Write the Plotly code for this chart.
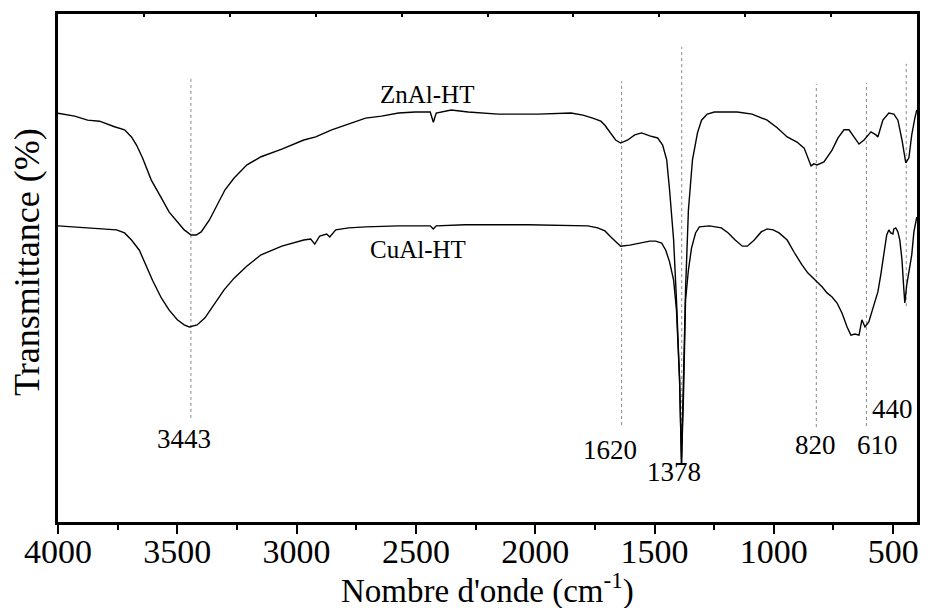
import plotly.graph_objects as go

# ---------------- data ----------------
zn_wn = [4000, 3930, 3876, 3826, 3763, 3721, 3692, 3671, 3646, 3609, 3567, 3534, 3500, 3471,
         3442, 3421, 3400, 3366, 3333, 3300, 3262, 3208, 3149, 3062, 2970, 2920, 2853, 2769,
         2711, 2644, 2573, 2503, 2440, 2427, 2415, 2352, 2281, 2155, 1988, 1850, 1800, 1759,
         1725, 1708, 1683, 1663, 1642, 1612, 1583, 1554, 1520, 1487, 1466, 1449, 1437, 1420,
         1408, 1395, 1387, 1378, 1370, 1358, 1341, 1320, 1303, 1279, 1249, 1153, 1091, 1028,
         986, 944, 903, 873, 852, 844, 832, 819, 790, 756, 731, 706, 685, 664, 643, 622, 593,
         572, 564, 543, 518, 497, 480, 463, 447, 434, 422, 409, 401]
zn_T = [80.45, 79.9, 79.1, 78.9, 77.8, 77.2, 75.8, 74.2, 71.7, 67.3, 63.8, 61.0, 59.1, 57.5,
        56.5, 56.5, 57.1, 59.4, 62.4, 65.4, 67.7, 70.3, 71.9, 73.4, 75.2, 75.8, 77.2, 78.5,
        79.5, 79.9, 80.5, 80.7, 80.7, 78.7, 80.5, 81.1, 80.7, 80.3, 80.3, 80.5, 80.1, 79.5,
        78.9, 78.1, 76.6, 75.2, 74.6, 75.2, 76.2, 76.6, 76.0, 75.6, 74.2, 71.3, 65.4, 55.5,
        43.7, 28.0, 11.6, 28.0, 45.7, 61.4, 71.3, 76.6, 79.1, 80.3, 80.7, 80.7, 80.3, 79.1,
        77.6, 75.8, 74.8, 73.6, 71.3, 70.1, 70.5, 70.3, 70.9, 73.2, 75.6, 77.2, 77.2, 75.8,
        74.4, 75.2, 76.8, 76.2, 75.8, 79.1, 80.5, 80.3, 79.1, 75.2, 70.7, 71.7, 76.2, 79.5, 81.1]

cu_wn = [4000, 3876, 3755, 3721, 3692, 3659, 3638, 3604, 3567, 3534, 3500, 3471, 3450, 3417,
         3384, 3346, 3304, 3262, 3208, 3149, 3062, 2970, 2941, 2924, 2903, 2874, 2861, 2836,
         2782, 2711, 2573, 2440, 2427, 2415, 2294, 2031, 1780, 1738, 1708, 1683, 1658, 1642,
         1604, 1554, 1520, 1495, 1470, 1453, 1437, 1420, 1408, 1395, 1387, 1378, 1370, 1358,
         1345, 1328, 1312, 1270, 1220, 1191, 1162, 1132, 1111, 1082, 1053, 1028, 1003, 978,
         944, 915, 882, 857, 827, 798, 777, 756, 735, 714, 693, 677, 660, 643, 631, 618, 602,
         581, 564, 552, 539, 527, 518, 510, 501, 497, 489, 480, 472, 463, 455, 451, 443, 434,
         422, 413, 401]
cu_T = [58.3, 57.9, 57.5, 56.9, 55.5, 53.5, 51.2, 47.6, 44.1, 41.7, 39.8, 38.8, 38.4, 38.8,
        40.2, 42.7, 45.7, 48.0, 50.4, 52.6, 54.3, 55.5, 55.7, 54.7, 56.3, 56.7, 56.1, 57.5,
        57.9, 58.1, 58.3, 58.3, 57.7, 58.3, 58.5, 58.5, 58.3, 57.9, 57.3, 56.1, 54.9, 54.3,
        54.5, 54.9, 55.3, 55.3, 54.9, 53.5, 51.2, 47.6, 41.7, 28.0, 11.6, 26.0, 43.7, 49.6,
        53.9, 56.9, 58.1, 58.3, 57.9, 56.9, 55.5, 54.3, 54.3, 55.5, 57.1, 57.7, 57.5, 56.9,
        55.5, 53.1, 50.6, 49.0, 47.6, 46.3, 45.1, 44.3, 43.1, 41.1, 38.4, 36.8, 37.0, 36.8,
        39.8, 38.4, 39.4, 42.7, 45.3, 48.6, 52.6, 56.5, 57.5, 56.9, 56.7, 57.7, 57.9, 57.1,
        55.5, 51.6, 45.7, 43.1, 46.7, 49.2, 52.6, 57.1, 60.0]

# marker lines for the assigned bands
peak_labels = ["3443", "1620", "1378", "820", "610", "440"]
peak_line_wn = [3443, 1638, 1386, 822, 612, 445]
peak_line_top = [87.6, 86.8, 93.5, 86.2, 86.4, 90.2]
peak_line_bottom = [20.5, 19.1, 11.6, 18.7, 18.9, 42.5]
peak_label_wn = [3471, 1688, 1420, 827, 564, 502]
peak_label_T = [16.3, 14.2, 9.8, 15.2, 15.2, 22.2]

series_names = ["ZnAl-HT", "CuAl-HT"]
series_label_wn = [2452, 2490]
series_label_T = [84.1, 53.6]

x_ticks = [4000, 3500, 3000, 2500, 2000, 1500, 1000, 500]

SERIF = "Liberation Serif, Times New Roman, serif"

fig = go.Figure()

# dotted band markers
lx, ly = [], []
for w, t, b in zip(peak_line_wn, peak_line_top, peak_line_bottom):
    lx += [w, w, None]
    ly += [b, t, None]
fig.add_trace(go.Scatter(x=lx, y=ly, mode="lines",
                         line=dict(color="#8a8a8a", width=1, dash="dot"),
                         hoverinfo="skip", showlegend=False))

fig.add_trace(go.Scatter(x=zn_wn, y=zn_T, mode="lines", name=series_names[0],
                         line=dict(color="black", width=1.4), showlegend=False))
fig.add_trace(go.Scatter(x=cu_wn, y=cu_T, mode="lines", name=series_names[1],
                         line=dict(color="black", width=1.4), showlegend=False))

# dummy trace for the top (mirror) axis ticks
fig.add_trace(go.Scatter(x=[0, 10], y=[None, None], xaxis="x2", mode="lines",
                         showlegend=False, hoverinfo="skip"))

annotations = []
for txt, w, t in zip(peak_labels, peak_label_wn, peak_label_T):
    annotations.append(dict(x=w, y=t, xref="x", yref="y", text=txt, showarrow=False,
                            font=dict(family=SERIF, size=27, color="black"),
                            xanchor="center", yanchor="middle"))
for txt, w, t in zip(series_names, series_label_wn, series_label_T):
    annotations.append(dict(x=w, y=t, xref="x", yref="y", text=txt, showarrow=False,
                            font=dict(family=SERIF, size=25, color="black"),
                            xanchor="center", yanchor="middle"))
annotations.append(dict(x=-0.036, y=0.512, xref="paper", yref="paper",
                        text="Transmittance (%)", textangle=-90, showarrow=False,
                        font=dict(family=SERIF, size=36, color="black"),
                        xanchor="center", yanchor="middle"))
annotations.append(dict(x=0.5, y=-0.177, xref="paper", yref="paper",
                        text="Nombre d'onde (cm<sup>-1</sup>)", showarrow=False,
                        font=dict(family=SERIF, size=33, color="black"),
                        xanchor="center", yanchor="bottom"))

fig.update_layout(
    width=928, height=608,
    margin=dict(l=58, r=8, t=14, b=86),
    paper_bgcolor="white", plot_bgcolor="white",
    showlegend=False,
    annotations=annotations,
    xaxis=dict(range=[4000, 400], tickvals=x_ticks, ticks="outside", ticklen=9, tickwidth=2,
               tickcolor="black", showline=True, linewidth=2.5, linecolor="black",
               mirror=True, showgrid=False, zeroline=False, ticklabelstandoff=-12,
               tickfont=dict(family=SERIF, size=34, color="black"),
               minor=dict(dtick=250, ticks="outside", ticklen=5, tickwidth=2,
                          tickcolor="black", showgrid=False)),
    xaxis2=dict(overlaying="x", side="top", anchor="y", range=[0, 10],
                tickvals=list(range(1, 10)),
                ticks="inside", ticklen=3, tickwidth=1.5, tickcolor="black",
                showticklabels=False, showline=False, showgrid=False, zeroline=False),
    yaxis=dict(range=[0, 100], showticklabels=False, ticks="", showline=True,
               linewidth=2.5, linecolor="black", mirror=True, showgrid=False,
               zeroline=False),
)

fig.write_html("out.html")
